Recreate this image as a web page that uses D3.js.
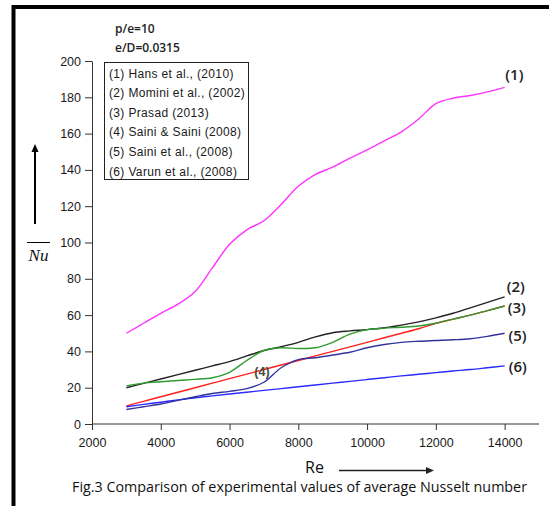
<!DOCTYPE html>
<html>
<head>
<meta charset="utf-8">
<script src="https://cdn.jsdelivr.net/npm/d3@7"></script>
<style>
  body { margin: 0; background: #fff; }
  svg { display: block; }
  .tick text { font-family: "Liberation Sans", Arial, sans-serif; font-size: 12.5px; fill: #1a1a1a; }
  .axis path, .axis line { stroke: #333; }
</style>
</head>
<body>
<svg id="chart" width="549" height="506"></svg>
<script>
var reA = [3000, 3500, 4000, 4500, 5000, 5500, 6000, 6500, 7000, 7500, 8000, 8500, 9000, 9500, 10000, 10500, 11000, 11500, 12000, 12500, 13000, 13500, 14000];

// (1) Hans et al. (2010)
var hans = [50, 55.5, 61, 66, 73, 86, 99, 107, 112, 121, 131, 137.5, 141.5, 146.5, 151, 156, 161, 168, 176.5, 179.5, 181, 183, 185.5];
// (2) Momini et al. (2002)
var momini = [20, 22.4, 24.8, 27.2, 29.6, 32, 34.4, 37.5, 40.5, 42.6, 45, 48, 50.3, 51.3, 52, 53, 54.5, 56.3, 58.5, 61, 64, 67, 70];
// (3) Prasad (2013)
var prasad = [21, 22.5, 23.3, 24, 24.6, 25.5, 28.5, 35, 40.5, 42, 41.6, 42, 45, 49.5, 52, 52.8, 53.3, 54, 55.5, 57.8, 60, 62.5, 65];
// (4) Saini & Saini (2008)
var sainiSaini = [10, 12.5, 15, 17.5, 20, 22.5, 25, 27.5, 30, 32.5, 35, 37.5, 40, 42.5, 45, 47.5, 50, 52.5, 55.5, 57.8, 60, 62.5, 65];
// (5) Saini et al. (2008)
var sainiEtAl = [8, 9.5, 11, 13, 15, 16.8, 18, 19.5, 23, 31, 35.5, 36.5, 38, 39.5, 42, 43.8, 45, 45.6, 46, 46.4, 47, 48.3, 50];
// (6) Varun et al. (2008)
var varun = [9.5, 10.8, 12, 13.3, 14.5, 15.5, 16.5, 17.5, 18.5, 19.5, 20.5, 21.5, 22.5, 23.5, 24.5, 25.5, 26.5, 27.4, 28.3, 29.2, 30, 31, 32];

var legendLabels = ['(1) Hans et al., (2010)', '(2) Momini et al., (2002)', '(3) Prasad (2013)',
  '(4) Saini & Saini (2008)', '(5) Saini et al., (2008)', '(6) Varun et al., (2008)'];
var xTicks = [2000, 4000, 6000, 8000, 10000, 12000, 14000];
var yTicks = [0, 20, 40, 60, 80, 100, 120, 140, 160, 180, 200];

var svg = d3.select('#chart');

var xScale = d3.scaleLinear().domain([2000, 15000]).range([92, 539]);
var yScale = d3.scaleLinear().domain([0, 200]).range([424, 61]);

// frame lines (top and left edge of the scanned figure)
svg.append('path')
  .attr('d', 'M13.5,506V7H549')
  .attr('fill', 'none')
  .attr('stroke', '#000')
  .attr('stroke-width', 4);

// axes: major ticks with labels, minor ticks without
var xAxisG = svg.append('g').attr('class', 'axis')
  .attr('transform', 'translate(0,' + yScale(0) + ')');
xAxisG.call(d3.axisBottom(xScale).tickValues(d3.range(2000, 15001, 1000)).tickSize(4).tickFormat(''));
xAxisG.call(d3.axisBottom(xScale).tickValues(xTicks).tickSize(6).tickSizeOuter(0).tickPadding(8).tickFormat(d3.format('d')));
xAxisG.selectAll('path').attr('d', 'M' + xScale(2000) + ',0H' + xScale(15000));

var yAxisG = svg.append('g').attr('class', 'axis')
  .attr('transform', 'translate(' + xScale(2000) + ',0)');
yAxisG.call(d3.axisLeft(yScale).tickValues(d3.range(0, 201, 10)).tickSize(3).tickFormat(''));
yAxisG.call(d3.axisLeft(yScale).tickValues(yTicks).tickSize(7).tickSizeOuter(0).tickPadding(4).tickFormat(d3.format('d')));

// curves
var series = [
  { values: hans, color: '#ff33ff' },
  { values: sainiSaini, color: '#ff2020' },
  { values: varun, color: '#2a2aff' },
  { values: sainiEtAl, color: '#33339e' },
  { values: momini, color: '#222222' },
  { values: prasad, color: '#2f9a2f' }
];

var line = d3.line()
  .x(function (d) { return xScale(d[0]); })
  .y(function (d) { return yScale(d[1]); })
  .curve(d3.curveCatmullRom);

svg.append('g').selectAll('path').data(series)
  .enter().append('path')
    .attr('fill', 'none')
    .attr('stroke', function (d) { return d.color; })
    .attr('stroke-width', 1.4)
    .attr('d', function (d) {
      return line(d.values.map(function (v, i) { return [reA[i], v]; }));
    });

// curve labels, placed in data units
var curveLabels = [
  { text: '(1)', re: 14020, nu: 189.5 },
  { text: '(2)', re: 14060, nu: 72.5 },
  { text: '(3)', re: 14090, nu: 61 },
  { text: '(5)', re: 14110, nu: 45.5 },
  { text: '(6)', re: 14120, nu: 28.5 }
];
svg.append('g').selectAll('text').data(curveLabels)
  .enter().append('text')
    .attr('x', function (d) { return xScale(d.re); })
    .attr('y', function (d) { return yScale(d.nu); })
    .attr('font-family', '"Open Sans", sans-serif')
    .attr('font-size', 15)
    .attr('font-weight', 600)
    .attr('fill', '#222')
    .text(function (d) { return d.text; });

svg.append('text')
  .attr('x', xScale(6720)).attr('y', yScale(26.5))
  .attr('font-family', '"Liberation Sans", Arial, sans-serif')
  .attr('font-size', 12.5).attr('font-weight', 'bold')
  .attr('fill', '#4a4a3a')
  .text('(4)');

// parameters
svg.append('text').attr('x', 115).attr('y', 33)
  .attr('font-family', '"Open Sans", sans-serif').attr('font-size', 12).attr('font-weight', 600)
  .attr('fill', '#222').text('p/e=10');
svg.append('text').attr('x', 115).attr('y', 52)
  .attr('font-family', '"Open Sans", sans-serif').attr('font-size', 12).attr('font-weight', 600)
  .attr('fill', '#222').text('e/D=0.0315');

// legend
var legendG = svg.append('g').attr('transform', 'translate(104,62)');
legendG.append('rect')
  .attr('x', 0.5).attr('y', 0.5).attr('width', 144).attr('height', 117)
  .attr('fill', '#fff').attr('stroke', '#222').attr('stroke-width', 1);
legendG.selectAll('text').data(legendLabels)
  .enter().append('text')
    .attr('x', 5)
    .attr('y', function (d, i) { return 15.5 + i * 19.6; })
    .attr('font-family', '"Liberation Sans", Arial, sans-serif')
    .attr('font-size', 12)
    .attr('letter-spacing', 0.35)
    .attr('fill', '#1a1a1a')
    .text(function (d) { return d; });

// y label with arrow
svg.append('line').attr('x1', 35).attr('x2', 35).attr('y1', 224).attr('y2', 150)
  .attr('stroke', '#000').attr('stroke-width', 2);
svg.append('path').attr('d', 'M35,144L31.5,152H38.5Z').attr('fill', '#000');
svg.append('line').attr('x1', 27).attr('x2', 50).attr('y1', 242.5).attr('y2', 242.5)
  .attr('stroke', '#000').attr('stroke-width', 1);
svg.append('text').attr('x', 38.5).attr('y', 261)
  .attr('text-anchor', 'middle')
  .attr('font-family', '"Liberation Serif", "Times New Roman", serif')
  .attr('font-style', 'italic').attr('font-size', 17)
  .attr('fill', '#111').text('Nu');

// x label with arrow
svg.append('text').attr('x', 305).attr('y', 473)
  .attr('font-family', '"Open Sans", sans-serif').attr('font-size', 16)
  .attr('fill', '#111').text('Re');
svg.append('line').attr('x1', 339).attr('x2', 428).attr('y1', 470.5).attr('y2', 470.5)
  .attr('stroke', '#222').attr('stroke-width', 1.5);
svg.append('path').attr('d', 'M434,470.5L426,467V474Z').attr('fill', '#222');

// caption
svg.append('text').attr('x', 72).attr('y', 492)
  .attr('font-family', '"Open Sans", sans-serif').attr('font-size', 14)
  .attr('textLength', 455).attr('lengthAdjust', 'spacingAndGlyphs')
  .attr('fill', '#111')
  .text('Fig.3 Comparison of experimental values of average Nusselt number');
</script>
</body>
</html>
